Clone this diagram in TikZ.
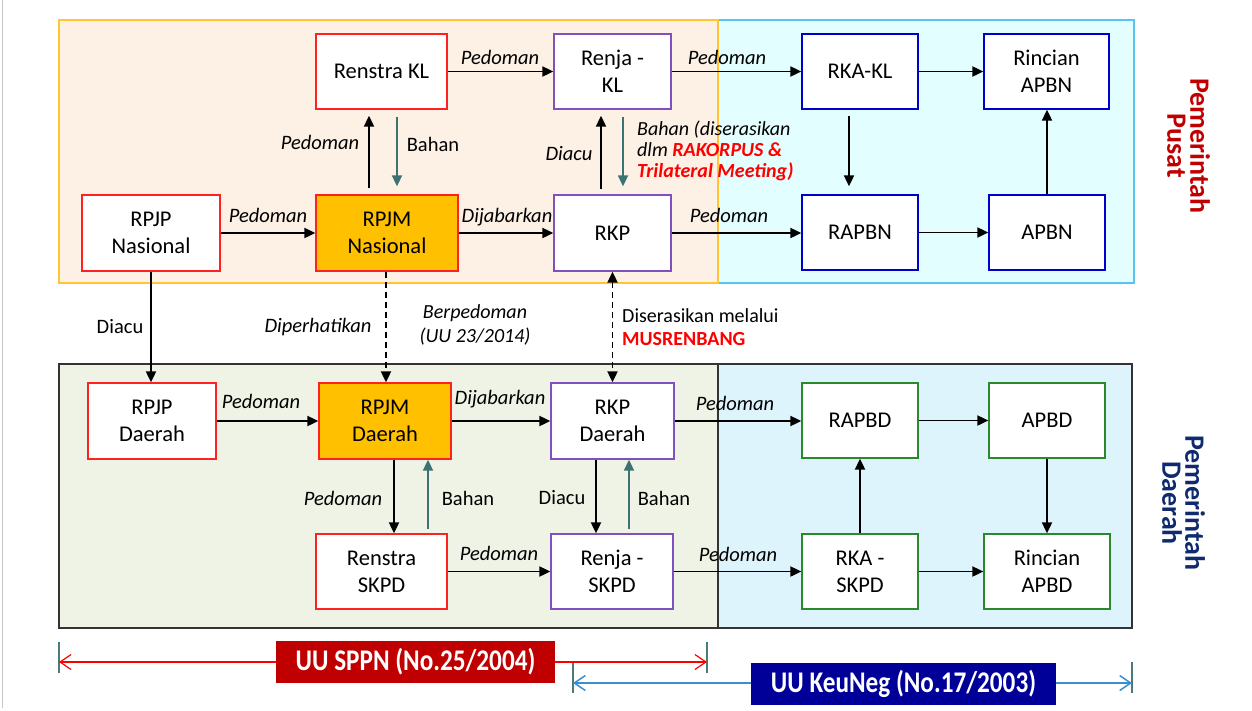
\documentclass[tikz,border=0pt]{standalone}
\usepackage{fontspec}
\usepackage{graphicx}
\setmainfont{Carlito}
\usetikzlibrary{arrows.meta,calc}
\definecolor{cRed}{HTML}{FF2020}
\definecolor{cPurple}{HTML}{8050C0}
\definecolor{cBlue}{HTML}{0000CC}
\definecolor{cGreen}{HTML}{2A8A2A}
\definecolor{cOrange}{HTML}{FFC000}
\definecolor{cTeal}{HTML}{3D7272}
\definecolor{cPeach}{HTML}{FDF0E5}
\definecolor{cGold}{HTML}{FFC533}
\definecolor{cCyan}{HTML}{E2FEFE}
\definecolor{cCyanB}{HTML}{59C4EE}
\definecolor{cOlive}{HTML}{EFF3E6}
\definecolor{cSky}{HTML}{DEF4FC}
\definecolor{cDark}{HTML}{333333}
\definecolor{cDRed}{HTML}{C00000}
\definecolor{cNavy}{HTML}{102A70}
\definecolor{cLegBlue}{HTML}{000099}
\definecolor{cLineBlue}{HTML}{3A8FD0}
\definecolor{cTick}{HTML}{4A7A7A}
\begin{document}
\begin{tikzpicture}[x=1pt,y=-1pt,
  box/.style={draw, line width=1.3pt, fill=white, align=center, inner sep=0pt,
    font=\fontsize{22.5}{27}\selectfont},
  sz/.style 2 args={minimum width=#1pt, minimum height=#2pt},
  boxred/.style={box, draw=cRed},
  boxorg/.style={box, draw=cRed, fill=cOrange},
  boxpur/.style={box, draw=cPurple},
  boxblu/.style={box, draw=cBlue},
  boxgrn/.style={box, draw=cGreen},
  arr/.style={line width=1.9pt, -{Triangle[length=11pt,width=10pt]}},
  tarr/.style={arr, draw=cTeal, line width=1.7pt},
  darr/.style={arr, dash pattern=on 6pt off 4pt},
  lbl/.style={font=\fontsize{20.5}{22}\selectfont\itshape, inner sep=0pt},
  lbln/.style={font=\fontsize{20.5}{22}\selectfont, inner sep=0pt},
  tick/.style={draw=cTick, line width=1.5pt},
  legbox/.style={inner sep=0pt, text=white, font=\bfseries\fontsize{30}{32}\selectfont},
  side/.style={rotate=-90, align=center, inner sep=0pt, font=\bfseries\fontsize{28}{23}\selectfont}
]
\useasboundingbox (0,0) rectangle (1252,710);
\fill[white] (0,0) rectangle (1252,710);
\draw[gray!45, line width=1pt] (2,0) -- (2,708);

% regions
\filldraw[fill=cCyan, draw=cCyanB, line width=1.5pt] (718,20) rectangle (1134,283);
\filldraw[fill=cPeach, draw=cGold, line width=1.5pt] (59,20) rectangle (718,283);
\filldraw[fill=cSky, draw=cDark, line width=1.5pt] (718,364) rectangle (1132,628);
\filldraw[fill=cOlive, draw=cDark, line width=1.5pt] (59,364) rectangle (718,628);

% nodes top
\node[boxred, sz={131}{75}] (renstraKL) at (381.5,71.5) {Renstra KL};
\node[boxpur, sz={117}{75}] (renjaKL) at (612.5,71.5) {Renja -\\KL};
\node[boxblu, sz={116}{75}] (rkakl) at (860,71.5) {RKA-KL};
\node[boxblu, sz={125}{75}] (rincianAPBN) at (1046.5,71.5) {Rincian\\APBN};
\node[boxred, sz={138}{76}] (rpjpN) at (151,233) {RPJP\\Nasional};
\node[boxorg, sz={142}{76}] (rpjmN) at (387,233) {RPJM\\Nasional};
\node[boxpur, sz={117}{76}] (rkp) at (612.5,233) {RKP};
\node[boxblu, sz={116}{75}] (rapbn) at (860,232.5) {RAPBN};
\node[boxblu, sz={116}{75}] (apbn) at (1047,232.5) {APBN};
% nodes bottom
\node[boxred, sz={128}{76}] (rpjpD) at (152,421) {RPJP\\Daerah};
\node[boxorg, sz={132}{76}] (rpjmD) at (385,421) {RPJM\\Daerah};
\node[boxpur, sz={123}{76}] (rkpD) at (612.5,421) {RKP\\Daerah};
\node[boxgrn, sz={116}{75}] (rapbd) at (860,420.5) {RAPBD};
\node[boxgrn, sz={116}{75}] (apbd) at (1047,420.5) {APBD};
\node[boxred, sz={131}{75}] (renstraSKPD) at (381.5,571.5) {Renstra\\SKPD};
\node[boxpur, sz={122}{75}] (renjaSKPD) at (612,571.5) {Renja -\\SKPD};
\node[boxgrn, sz={116}{75}] (rkaSKPD) at (860,571.5) {RKA -\\SKPD};
\node[boxgrn, sz={126}{75}] (rincianAPBD) at (1047,571.5) {Rincian\\APBD};

% horizontal connectors
\draw[arr] (renstraKL) -- (renjaKL);
\draw[arr] (renjaKL) -- (rkakl);
\draw[arr] (rkakl) -- (rincianAPBN);
\draw[arr] (rpjpN) -- (rpjmN);
\draw[arr] (rpjmN) -- (rkp);
\draw[arr] (rkp.east) -- (rkp.east -| rapbn.west);
\draw[arr] (rapbn) -- (apbn);
\draw[arr] (rpjpD) -- (rpjmD);
\draw[arr] (rpjmD) -- (rkpD);
\draw[arr] (rkpD.east) -- (rkpD.east -| rapbd.west);
\draw[arr] (rapbd) -- (apbd);
\draw[arr] (renstraSKPD.east) -- (renstraSKPD.east -| renjaSKPD.west);
\draw[arr] (renjaSKPD.east) -- (renjaSKPD.east -| rkaSKPD.west);
\draw[arr] (rkaSKPD.east) -- (rkaSKPD.east -| rincianAPBD.west);

% vertical connectors top
\draw[arr, shorten <=6pt, shorten >=6pt] ([xshift=-18pt]rpjmN.north) -- ([xshift=-18pt]rpjmN.north |- renstraKL.south);
\draw[tarr, shorten <=7pt, shorten >=8pt] ([xshift=10pt]rpjmN.north |- renstraKL.south) -- ([xshift=10pt]rpjmN.north);
\draw[arr, shorten <=5pt, shorten >=6pt] ([xshift=-11.5pt]rkp.north) -- ([xshift=-11.5pt]rkp.north |- renjaKL.south);
\draw[tarr, shorten <=7pt, shorten >=8pt] ([xshift=10.5pt]rkp.north |- renjaKL.south) -- ([xshift=10.5pt]rkp.north);
\draw[arr, shorten <=6pt, shorten >=8pt] ([xshift=-11pt]rkakl.south) -- ([xshift=-11pt]rkakl.south |- rapbn.north);
\draw[arr] (apbn.north) -- (apbn.north |- rincianAPBN.south);
% between
\draw[arr] (rpjpN.south) -- (rpjpN.south |- rpjpD.north);
\draw[darr] ([xshift=-1pt]rpjmN.south) -- ([xshift=-1pt]rpjmN.south |- rpjmD.north);
\draw[darr, {Triangle[length=11pt,width=10pt]}-{Triangle[length=11pt,width=10pt]}] (rkp.south) -- (rkp.south |- rkpD.north);
% vertical connectors bottom
\draw[arr] ([xshift=9pt]rpjmD.south) -- ([xshift=9pt]rpjmD.south |- renstraSKPD.north);
\draw[tarr, shorten <=4pt] ([xshift=43pt]rpjmD.south |- renstraSKPD.north) -- ([xshift=43pt]rpjmD.south);
\draw[arr] ([xshift=-16.5pt]rkpD.south) -- ([xshift=-16.5pt]rkpD.south |- renjaSKPD.north);
\draw[tarr, shorten <=4pt] ([xshift=16.5pt]rkpD.south |- renjaSKPD.north) -- ([xshift=16.5pt]rkpD.south);
\draw[arr] (rkaSKPD.north) -- (rkaSKPD.north |- rapbd.south);
\draw[arr] (apbd.south) -- (apbd.south |- rincianAPBD.north);

% labels
\node[lbl] (l1) at (500,57) {Pedoman};
\node[lbl] (l2) at (727,57) {Pedoman};
\node[lbl] (l3) at (320,142) {Pedoman};
\node[lbln] (l4) at (433,144) {Bahan};
\node[lbl] (l5) at (569,154) {Diacu};
\node[lbl, align=left, anchor=west, font=\fontsize{20}{21}\selectfont\itshape] (l6) at (637,151)
  {Bahan (diserasikan\\dlm {\bfseries\color{red}RAKORPUS \&}\\{\bfseries\color{red}Trilateral Meeting)}};
\node[lbl] (l7) at (268,215) {Pedoman};
\node[lbl] (l8) at (507,217) {Dijabarkan};
\node[lbl] (l9) at (729,215) {Pedoman};
\node[lbln] (l10) at (120,327) {Diacu};
\node[lbl] (l11) at (318,327) {Diperhatikan};
\node[lbl, align=center, font=\fontsize{20}{24}\selectfont\itshape] (l12) at (475,325) {Berpedoman\\(UU 23/2014)};
\node[lbln, align=left, anchor=west, font=\fontsize{20}{23}\selectfont] (l13) at (622,327)
  {Diserasikan melalui\\{\bfseries\color{red}MUSRENBANG}};
\node[lbl] (l14) at (261,401) {Pedoman};
\node[lbl] (l15) at (500,399) {Dijabarkan};
\node[lbl] (l16) at (735,403) {Pedoman};
\node[lbl] (l17) at (343,498) {Pedoman};
\node[lbln] (l18) at (468,498) {Bahan};
\node[lbln] (l19) at (562,498) {Diacu};
\node[lbln] (l20) at (664,498) {Bahan};
\node[lbl] (l21) at (499,553) {Pedoman};
\node[lbl] (l22) at (738,554) {Pedoman};

% side titles
\node[side, text=cDRed] (pusat) at (1188.5,146) {Pemerintah\\Pusat};
\node[side, text=cNavy] (daerah) at (1183.5,503) {Pemerintah\\Daerah};

% legend
\coordinate (rL) at (59,662);
\coordinate (rR) at (707,662);
\coordinate (bL) at (573,683);
\coordinate (bR) at (1132,683);
\draw[tick] ([yshift=20pt]rL) -- ([yshift=-11pt]rL);
\draw[tick] ([yshift=20pt]rR) -- ([yshift=-11pt]rR);
\draw[tick] ([yshift=21pt]bL) -- ([yshift=-10pt]bL);
\draw[tick] ([yshift=21pt]bR) -- ([yshift=-10pt]bR);
\draw[red, line width=1.2pt, {Straight Barb[length=11pt,width=15pt]}-{Straight Barb[length=11pt,width=15pt]}] (rL) -- (rR);
\draw[cLineBlue, line width=1.5pt, {Straight Barb[length=11pt,width=15pt]}-{Straight Barb[length=11pt,width=15pt]}] (bL) -- (bR);
\node[legbox, fill=cDRed, sz={279}{42}] (sppn) at (415.5,662) {\scalebox{0.84}[1]{UU SPPN (No.25/2004)}};
\node[legbox, fill=cLegBlue, sz={305}{42}] (keuneg) at (903.5,684) {\scalebox{0.84}[1]{UU KeuNeg (No.17/2003)}};
\end{tikzpicture}
\end{document}
